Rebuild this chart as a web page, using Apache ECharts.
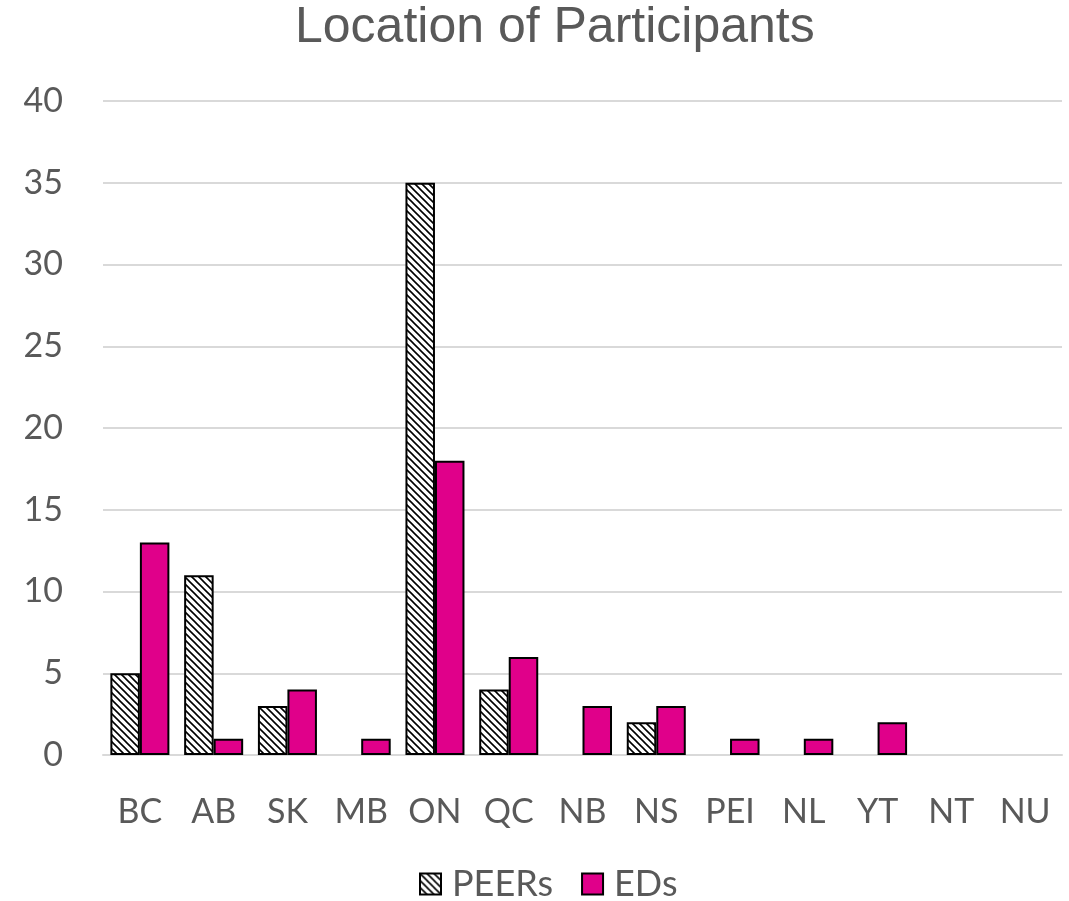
<!DOCTYPE html>
<html>
<head>
<meta charset="utf-8">
<script src="https://cdn.jsdelivr.net/npm/echarts@6/dist/echarts.min.js"></script>
<style>
  html, body { margin: 0; padding: 0; background: #fff; }
  #chart { width: 1069px; height: 901px; }
</style>
</head>
<body>
<div id="chart"></div>
<script>
// Provinces and territories
const categories = ['BC', 'AB', 'SK', 'MB', 'ON', 'QC', 'NB', 'NS', 'PEI', 'NL', 'YT', 'NT', 'NU'];
// Participant counts per location
const peers = [5, 11, 3, 0, 35, 4, 0, 2, 0, 0, 0, 0, 0];
const eds = [13, 1, 4, 1, 18, 6, 3, 3, 1, 1, 2, 0, 0];
const yTicks = [0, 5, 10, 15, 20, 25, 30, 35, 40];

// Diagonal hatch tile for the PEERs bars
function hatchPattern() {
  const size = 7;
  const c = document.createElement('canvas');
  c.width = size; c.height = size;
  const ctx = c.getContext('2d');
  ctx.fillStyle = '#ffffff';
  ctx.fillRect(0, 0, size, size);
  ctx.strokeStyle = '#000000';
  ctx.lineWidth = 1.6;
  ctx.beginPath();
  ctx.moveTo(-1, -1); ctx.lineTo(size + 1, size + 1);
  ctx.moveTo(-1, size - 1); ctx.lineTo(1, size + 1);
  ctx.moveTo(size - 1, -1); ctx.lineTo(size + 1, 1);
  ctx.stroke();
  return c;
}

const hatch = { image: hatchPattern(), repeat: 'repeat' };

// Zero counts are left without an outline so they don't draw a line
function toItems(values) {
  return values.map(v => v === 0 ? { value: v, itemStyle: { borderWidth: 0, opacity: 0 } } : v);
}

const axisFont = { fontFamily: 'Lato, "Open Sans", sans-serif', fontSize: 34, color: '#595959' };

const chart = echarts.init(document.getElementById('chart'), null, { renderer: 'canvas' });
chart.setOption({
  animation: false,
  backgroundColor: '#ffffff',
  title: {
    text: 'Location of Participants',
    left: 290,
    top: -2,
    textStyle: { fontFamily: '"Liberation Sans", Arial, sans-serif', fontSize: 50, fontWeight: 'normal', color: '#595959' }
  },
  legend: {
    bottom: -6,
    left: 414,
    icon: 'rect',
    itemWidth: 21,
    itemHeight: 21,
    itemGap: 28,
    textStyle: Object.assign({}, axisFont, { fontSize: 36, padding: [0, 0, 0, 6] }),
    data: ['PEERs', 'EDs']
  },
  grid: { left: 103, right: 7, top: 101, bottom: 146, containLabel: false },
  xAxis: {
    type: 'category',
    data: categories,
    axisLine: { show: true, lineStyle: { color: '#d9d9d9', width: 2 } },
    axisTick: { show: false },
    axisLabel: Object.assign({}, axisFont, { margin: 40 })
  },
  yAxis: {
    type: 'value',
    min: yTicks[0],
    max: yTicks[yTicks.length - 1],
    interval: 5,
    axisLine: { show: false },
    axisTick: { show: false },
    splitLine: { lineStyle: { color: '#d9d9d9', width: 2 } },
    axisLabel: Object.assign({}, axisFont, { margin: 40 })
  },
  series: [
    {
      name: 'PEERs',
      type: 'bar',
      data: toItems(peers),
      barGap: '0%',
      barCategoryGap: '20%',
      itemStyle: { color: hatch, borderColor: '#000000', borderWidth: 2 }
    },
    {
      name: 'EDs',
      type: 'bar',
      data: toItems(eds),
      barGap: '0%',
      barCategoryGap: '20%',
      itemStyle: { color: '#e0008a', borderColor: '#000000', borderWidth: 2 }
    }
  ]
});
</script>
</body>
</html>
